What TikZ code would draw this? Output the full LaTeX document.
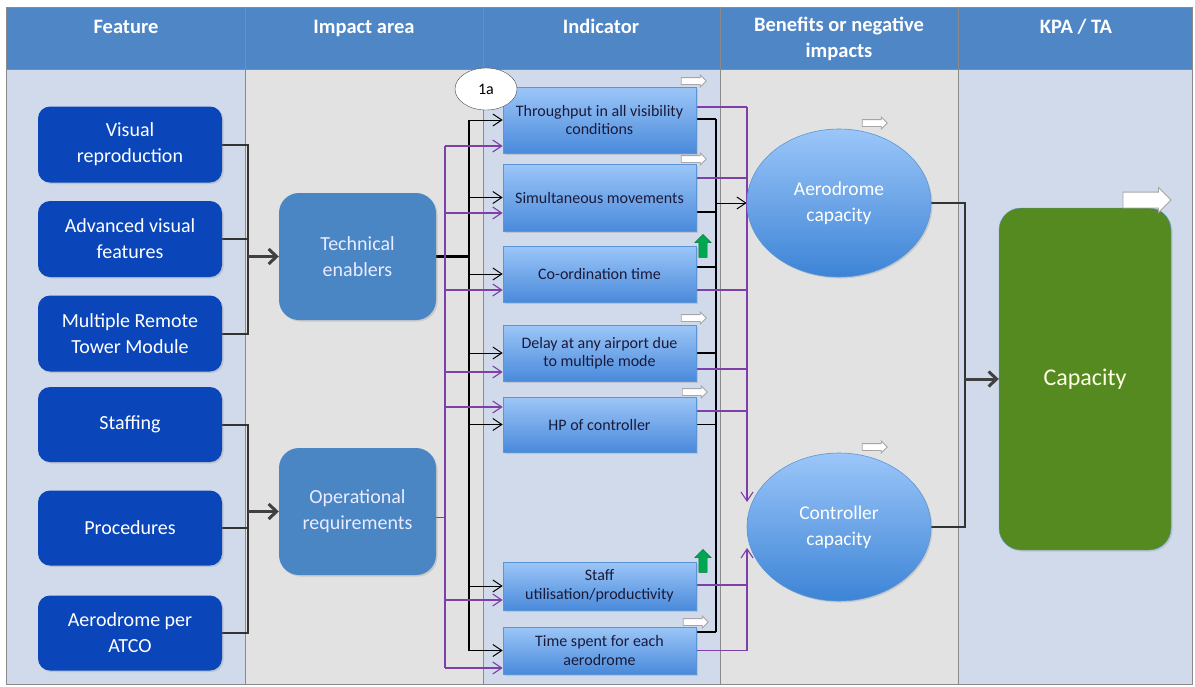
\documentclass[tikz,border=0pt]{standalone}
\usepackage{fontspec}
\setmainfont{Carlito}
\usetikzlibrary{arrows.meta,calc,shapes.geometric,shapes.arrows,shadows}

\definecolor{headblue}{HTML}{4F86C6}
\definecolor{colblue}{HTML}{D0DAEA}
\definecolor{colgrey}{HTML}{E2E2E2}
\definecolor{gridgrey}{HTML}{8A8A8A}
\definecolor{featblue}{HTML}{0A46BA}
\definecolor{areablue}{HTML}{4A86C4}
\definecolor{indtop}{HTML}{9CC6F8}
\definecolor{indbot}{HTML}{4A8ADB}
\definecolor{indline}{HTML}{5A96D6}
\definecolor{indtxt}{HTML}{1A1A3A}
\definecolor{bentop}{HTML}{9BC6F9}
\definecolor{benbot}{HTML}{3D84D6}
\definecolor{kpagreen}{HTML}{548A1F}
\definecolor{wire}{HTML}{7F3FA8}
\definecolor{risegreen}{HTML}{00A650}

\pgfdeclarelayer{bg}
\pgfdeclarelayer{wires}
\pgfsetlayers{bg,wires,main}

\tikzset{
  gridline/.style={draw=gridgrey, line width=0.8pt},
  headtxt/.style={text=white, font=\fontsize{20.5}{26}\selectfont\bfseries, align=center},
  boxshadow/.style={drop shadow={opacity=.25, shadow xshift=1.5pt, shadow yshift=-1.5pt}},
  feat/.style={rounded corners=12pt, fill=featblue, text=white, minimum width=184pt, minimum height=76pt,
    align=center, font=\fontsize{20}{26}\selectfont, boxshadow},
  area/.style={rounded corners=20pt, fill=areablue, text=white!92!blue, minimum width=157pt, minimum height=127pt,
    align=center, font=\fontsize{20}{26}\selectfont, boxshadow},
  ind/.style={draw=indline, line width=0.6pt, top color=indtop, bottom color=indbot, minimum width=193pt,
    text=indtxt, align=center, font=\fontsize{16}{18.5}\selectfont, boxshadow},
  ben/.style={ellipse, draw=indline, line width=0.6pt, top color=bentop, bottom color=benbot, minimum width=184pt,
    minimum height=148pt, text=white, align=center, font=\fontsize{19.5}{26}\selectfont, boxshadow},
  kpa/.style={rounded corners=22pt, draw=indline, fill=kpagreen, text=white!90!yellow, minimum width=172pt,
    minimum height=342pt, font=\fontsize{24}{26}\selectfont, boxshadow},
  tag/.style={ellipse, draw=black!70, fill=white, minimum width=62pt, minimum height=42pt, inner sep=0pt,
    font=\fontsize{16}{18}\selectfont},
  flat/.style={single arrow, draw=gray!70, fill=white, line width=0.8pt, inner xsep=0pt, inner ysep=3pt,
    minimum height=25pt, single arrow head extend=2.5pt},
  rise/.style={single arrow, shape border rotate=90, draw=risegreen!70!black, fill=risegreen, line width=0.4pt,
    inner sep=4pt, minimum height=23pt, single arrow head extend=4pt},
  bus/.style={draw=black!80, line width=2pt},
  fat/.style={draw=black!75, line width=3pt, -{Straight Barb[length=8pt,width=15pt]}},
  bk/.style={draw=black, line width=1pt, -{Straight Barb[length=9pt,width=12pt]}},
  bw/.style={draw=black, line width=1.4pt},
  pw/.style={draw=wire, line width=1.1pt},
  pk/.style={draw=wire, line width=1.1pt, -{Straight Barb[length=9pt,width=12pt]}}
}

\begin{document}
\begin{tikzpicture}[x=1pt,y=-1pt]
\useasboundingbox (0,0) rectangle (1195,686);
\begin{pgfonlayer}{bg}
\fill[white] (0,0) rectangle (1195,686);
\foreach \a/\b/\c in {6/245/colblue,245/483/colgrey,483/720/colblue,720/958/colgrey,958/1192/colblue}{
  \fill[\c] (\a,69) rectangle (\b,684);
  \draw[gridline, fill=headblue] (\a,7) rectangle (\b,69);
  \draw[gridline] (\a,69) rectangle (\b,684);
}
\end{pgfonlayer}

\node[headtxt, anchor=base] (h1) at (126,33) {Feature};
\node[headtxt, anchor=base] (h2) at (364,33) {Impact area};
\node[headtxt, anchor=base] (h3) at (601,33) {Indicator};
\node[headtxt] (h4) at (839,39) {Benefits or negative\\impacts};
\node[headtxt, anchor=base] (h5) at (1076,33) {KPA / TA};

\node[feat] (vis) at (130,144.5) {Visual\\reproduction};
\node[feat] (adv) at (130,239) {Advanced visual\\features};
\node[feat] (mrt) at (130,333.5) {Multiple Remote\\Tower Module};
\node[feat, minimum height=75pt] (stg) at (130,424.5) {Staffing};
\node[feat, minimum height=75pt] (pro) at (130,528) {Procedures};
\node[feat, minimum height=75pt] (ape) at (130,633) {Aerodrome per\\ATCO};

\node[area] (tech) at (357.5,256.5) {Technical\\enablers};
\node[area] (ops) at (357.5,511.5) {Operational\\requirements};

\node[ind, minimum height=66pt] (thr) at (599.5,120) {Throughput in all visibility\\conditions};
\node[ind, minimum height=67pt] (sim) at (599.5,197.5) {Simultaneous movements};
\node[ind, minimum height=56pt] (cor) at (599.5,274) {Co-ordination time};
\node[ind, minimum height=56pt] (del) at (599.5,353) {Delay at any airport due\\to multiple mode};
\node[ind, minimum height=55pt] (hp) at (599.5,424.5) {HP of controller};
\node[ind, minimum height=48pt] (utl) at (599.5,586) {Staff\\utilisation/productivity};
\node[ind, minimum height=47pt] (tim) at (599.5,650.5) {Time spent for each\\aerodrome};
\node[tag] (t1a) at (486,89) {1a};

\node[ben] (aero) at (839,203) {Aerodrome\\capacity};
\node[ben] (ctl) at (839,527) {Controller\\capacity};
\node[kpa] (cap) at (1085,379) {Capacity};

\node[flat] (f1) at (692,81) {};
\node[flat] (f2) at (692,159) {};
\node[flat] (f3) at (692,318) {};
\node[flat] (f4) at (693,392) {};
\node[flat] (f5) at (694,622) {};
\node[flat] (f6) at (873,123) {};
\node[flat] (f7) at (873,447) {};
\node[flat, minimum height=48pt, inner ysep=7.5pt, single arrow head extend=4.5pt] (f8) at (1143,200) {};
\node[rise] (g1) at (703,248) {};
\node[rise] (g2) at (703,563) {};

\begin{pgfonlayer}{wires}
\coordinate (fb) at (248,0);
\coordinate (pb) at (445,0);
\coordinate (tb) at (469,0);
\coordinate (ob) at (716,0);
\coordinate (qb) at (747,0);
\coordinate (cb) at (965,0);
\draw[bus] (vis.east) -| (fb |- mrt.east) -- (mrt.east);
\draw[bus] (adv.east) -- (fb |- adv.east);
\draw[bus] (stg.east) -| (fb |- ape.east) -- (ape.east);
\draw[bus] (pro.east) -- (fb |- pro.east);
\draw[fat] (fb |- tech.west) -- (tech.west);
\draw[fat] (fb |- ops.west) -- (ops.west);

\draw[black, line width=3pt] (tech.east) -- (tb |- tech.east);
\draw[black, line width=2pt] (tb |- thr.west) -- (tb |- tim.west);
\foreach \n in {thr,sim,cor,del,hp,utl,tim} \draw[bk] (tb |- \n.west) -- (\n.west);
\draw[pw] ($(ops.east)+(0,6)$) -- ($(pb |- ops.east)+(0,6)$);
\draw[pw] ($(pb |- thr.west)+(0,26)$) -- ($(pb |- tim.west)+(0,17.5)$);
\foreach \n/\d in {thr/26,sim/15.5,cor/16,del/19,hp/-17.5,utl/14,tim/17.5}
  \draw[pk] ($(pb |- \n.west)+(0,\d)$) -- ($(\n.west)+(0,\d)$);

\foreach \n/\d in {thr/-1,sim/14.5,cor/-7,del/0,hp/0,tim/-18.5}
  \draw[bw] ($(\n.east)+(0,\d)$) -- ($(ob |- \n.east)+(0,\d)$);
\draw[bw] ($(ob |- thr.east)+(0,-1)$) -- ($(ob |- tim.east)+(0,-18.5)$);
\draw[bk] (ob |- aero.west) -- (aero.west);
\foreach \n/\d in {thr/-13,sim/-19.5,cor/16,del/16,hp/-13.5,utl/-1,tim/0}
  \draw[pw] ($(\n.east)+(0,\d)$) -- ($(qb |- \n.east)+(0,\d)$);
\draw[pk] ($(qb |- thr.east)+(0,-13)$) -- ($(qb |- ctl.west)+(0,-25)$);
\draw[pk] (qb |- tim.east) -- ($(qb |- ctl.west)+(0,21)$);

\draw[bus] (aero.east) -| (cb |- ctl.east) -- (ctl.east);
\draw[fat] (cb |- cap.west) -- (cap.west);
\end{pgfonlayer}
\end{tikzpicture}
\end{document}
